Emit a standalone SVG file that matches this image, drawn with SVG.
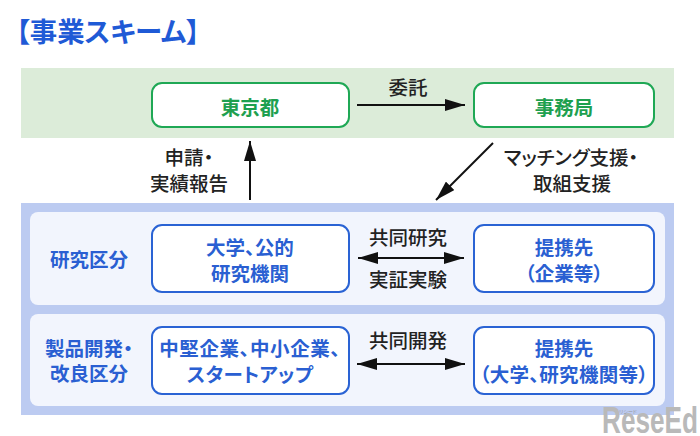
<svg xmlns="http://www.w3.org/2000/svg" width="700" height="436" viewBox="0 0 700 436">
<style>
text{font-family:"Noto Sans CJK JP","Liberation Sans",sans-serif;text-anchor:middle;font-feature-settings:"palt"}
.l{font-size:19.5px;fill:#222;font-weight:500}
.b{font-size:19.5px;font-weight:700;fill:#2a5fd2}
.g{font-size:19.5px;font-weight:700;fill:#1ea04f}
.nb{fill:#fff;stroke:#2a63d4;stroke-width:2}
.ng{fill:#fff;stroke:#1fa855;stroke-width:2}
.c{fill:none;stroke:#111;stroke-width:2}
</style>
<defs>
<marker id="a" viewBox="0 0 20 12" refX="20" refY="6" markerWidth="20" markerHeight="12" markerUnits="userSpaceOnUse" orient="auto-start-reverse"><path d="M0 0L20 6L0 12Z" fill="#111"/></marker>
</defs>
<rect width="700" height="436" fill="#fff"/>
<text x="108" y="42" style="font-size:27.4px;font-weight:700;fill:#1f5ad6">【事業スキーム】</text>
<g id="bands">
<rect x="21" y="68" width="653" height="70" fill="#dcecd9"/>
<rect x="21" y="203" width="653" height="212" fill="#bccbf1"/>
<rect x="30" y="212" width="635" height="93" rx="8" fill="#f2f5fd"/>
<rect x="30" y="314" width="635" height="92" rx="8" fill="#f2f5fd"/>
</g>
<g id="connectors">
<path class="c" d="M357 105H465" marker-end="url(#a)"/>
<path class="c" d="M250 200V141" marker-end="url(#a)"/>
<path class="c" d="M493 143L436 200" marker-end="url(#a)"/>
<path class="c" d="M358 258H464" marker-start="url(#a)" marker-end="url(#a)"/>
<path class="c" d="M357 364H465" marker-start="url(#a)" marker-end="url(#a)"/>
</g>
<g id="label-itaku"><text class="l" x="408" y="95">委託</text></g>
<g id="label-shinsei"><text class="l" x="189" y="165">申請・</text><text class="l" x="189" y="191">実績報告</text></g>
<g id="label-matching"><text class="l" x="571" y="165">マッチング支援・</text><text class="l" x="572" y="191">取組支援</text></g>
<g id="label-kenkyu"><text class="l" x="408" y="245">共同研究</text><text class="l" x="408" y="287">実証実験</text></g>
<g id="label-kaihatsu"><text class="l" x="408" y="348">共同開発</text></g>
<g id="row-kenkyu"><text class="b" x="89" y="267">研究区分</text></g>
<g id="row-seihin"><text class="b" x="89" y="356">製品開発・</text><text class="b" x="89" y="381">改良区分</text></g>
<g id="tokyo"><rect class="ng" x="152" y="83" width="197" height="44" rx="10"/><text class="g" x="250" y="115">東京都</text></g>
<g id="jimukyoku"><rect class="ng" x="474" y="83" width="180" height="44" rx="10"/><text class="g" x="564" y="115">事務局</text></g>
<g id="daigaku"><rect class="nb" x="152" y="225" width="197" height="67" rx="10"/><text class="b" x="250" y="255">大学、公的</text><text class="b" x="250" y="281">研究機関</text></g>
<g id="teikei1"><rect class="nb" x="474" y="225" width="180" height="67" rx="10"/><text class="b" x="564" y="255">提携先</text><text class="b" x="564" y="281">（企業等）</text></g>
<g id="chuken"><rect class="nb" x="152" y="327" width="197" height="67" rx="10"/><text class="b" x="250" y="356" letter-spacing="0.6">中堅企業、中小企業、</text><text class="b" x="250" y="382" letter-spacing="0.3">スタートアップ</text></g>
<g id="teikei2"><rect class="nb" x="474" y="327" width="180" height="67" rx="10"/><text class="b" x="564" y="356">提携先</text><text class="b" x="564" y="382" letter-spacing="0.3">（大学、研究機関等）</text></g>
<g id="watermark">
<text x="602" y="433" textLength="96" lengthAdjust="spacingAndGlyphs" style="text-anchor:start;font-family:'Liberation Sans',sans-serif;font-size:36px;font-weight:700;fill:#b9b9b9">ReseEd</text>
<text x="628" y="413" style="font-size:5px;fill:#999">リシード</text>
</g>
</svg>
